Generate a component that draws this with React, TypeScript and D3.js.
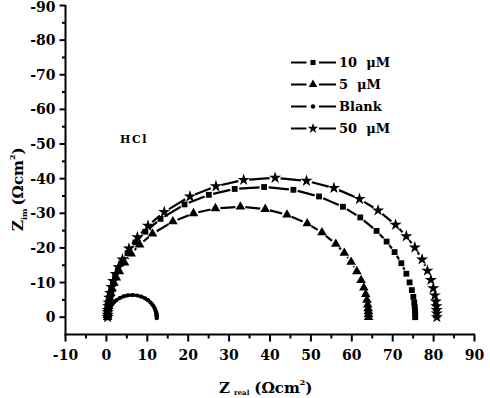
import React from "react";
import * as d3 from "d3";

type Pt = [number, number];

const seriesNames = ["10  μM", "5  μM", "Blank", "50  μM"];
const xTickValues = [-10, 0, 10, 20, 30, 40, 50, 60, 70, 80, 90];
const yTickValues = [-90, -80, -70, -60, -50, -40, -30, -20, -10, 0];
const annotationText = "HCl";

const uM10Data: Pt[] = [
  [0.3, 0], [0.31, -0.66], [0.32, -1.31], [0.35, -1.97], [0.42, -2.95], [0.51, -3.93],
  [0.67, -5.23], [0.87, -6.53], [1.19, -8.14], [1.58, -9.73], [2.14, -11.62], [2.8, -13.47],
  [3.69, -15.59], [5.18, -18.51], [7.1, -21.57], [9.52, -24.67], [13.23, -28.38], [19.1, -32.56],
  [25.04, -35.33], [31.37, -37.03], [38.56, -37.59], [45.72, -36.78], [51.99, -34.86], [57.83, -31.89],
  [62.07, -28.8], [66.06, -24.91], [68.51, -21.83], [70.46, -18.8], [72.11, -15.59], [73.34, -12.55],
  [74.13, -10.05], [74.68, -7.82], [75.04, -5.88], [75.26, -4.26], [75.38, -2.95], [75.45, -1.97],
  [75.49, -0.98], [75.5, 0],
];

const uM5Data: Pt[] = [
  [0.3, 0], [0.3, -0.56], [0.32, -1.11], [0.34, -1.67], [0.4, -2.5], [0.47, -3.33],
  [0.61, -4.44], [0.78, -5.54], [1.06, -6.9], [1.39, -8.26], [1.86, -9.86], [2.42, -11.43],
  [3.17, -13.23], [4.44, -15.71], [6.07, -18.3], [8.12, -20.93], [11.27, -24.08], [16.25, -27.63],
  [21.29, -29.98], [26.66, -31.42], [32.76, -31.9], [38.83, -31.2], [44.15, -29.58], [49.1, -27.05],
  [52.7, -24.44], [56.09, -21.14], [58.17, -18.52], [59.83, -15.95], [61.23, -13.23], [62.27, -10.65],
  [62.94, -8.52], [63.4, -6.63], [63.71, -4.99], [63.89, -3.61], [64.0, -2.5], [64.06, -1.67],
  [64.09, -0.84], [64.1, 0],
];

const blankData: Pt[] = [
  [0.3, 0], [0.3, -0.11], [0.3, -0.22], [0.31, -0.33], [0.32, -0.5], [0.33, -0.67],
  [0.36, -0.89], [0.39, -1.11], [0.44, -1.39], [0.5, -1.66], [0.59, -1.98], [0.7, -2.29],
  [0.84, -2.65], [1.08, -3.15], [1.39, -3.67], [1.77, -4.2], [2.36, -4.83], [3.3, -5.54],
  [4.25, -6.01], [5.26, -6.3], [6.4, -6.4], [7.55, -6.26], [8.55, -5.93], [9.48, -5.43],
  [10.16, -4.9], [10.79, -4.24], [11.18, -3.72], [11.5, -3.2], [11.76, -2.65], [11.96, -2.14],
  [12.08, -1.71], [12.17, -1.33], [12.23, -1.0], [12.26, -0.72], [12.28, -0.5], [12.29, -0.33],
  [12.3, -0.17], [12.3, 0.3],
];

const uM50Data: Pt[] = [
  [0.3, 0], [0.31, -0.7], [0.32, -1.4], [0.36, -2.11], [0.42, -3.16], [0.52, -4.21],
  [0.69, -5.6], [0.91, -6.99], [1.25, -8.71], [1.67, -10.42], [2.27, -12.44], [2.97, -14.42],
  [3.92, -16.69], [5.52, -19.82], [7.58, -23.09], [10.17, -26.41], [14.14, -30.38], [20.43, -34.86],
  [26.78, -37.82], [33.56, -39.64], [41.25, -40.24], [48.92, -39.37], [55.63, -37.32], [61.88, -34.13],
  [66.42, -30.83], [70.7, -26.67], [73.32, -23.37], [75.41, -20.13], [77.18, -16.69], [78.49, -13.44],
  [79.34, -10.76], [79.92, -8.37], [80.3, -6.3], [80.54, -4.56], [80.68, -3.16], [80.74, -2.11],
  [80.79, -1.05], [80.8, 0],
];

const FONT = "'DejaVu Serif', 'Liberation Serif', serif";

function trimmedSegments(pts: Pt[], gap: number): string {
  let d = "";
  for (let i = 1; i < pts.length; i++) {
    const [x0, y0] = pts[i - 1];
    const [x1, y1] = pts[i];
    const dx = x1 - x0, dy = y1 - y0;
    const L = Math.hypot(dx, dy);
    if (L <= 2 * gap + 0.5) continue;
    const ux = dx / L, uy = dy / L;
    d += `M${x0 + ux * gap},${y0 + uy * gap}L${x1 - ux * gap},${y1 - uy * gap}`;
  }
  return d;
}

export default function App() {
  const W = 490, H = 398;
  const x = d3.scaleLinear().domain([-10, 90]).range([65.5, 474.5]);
  const y = d3.scaleLinear().domain([-90, 5]).range([5.5, 334.5]);
  const xAxisY = y(5);
  const yAxisX = x(-10);

  const series = [
    { name: seriesNames[0], data: uM10Data, symbol: d3.symbolSquare, size: 34, gap: 4.5, continuous: false, legendSize: 26 },
    { name: seriesNames[1], data: uM5Data, symbol: d3.symbolTriangle, size: 40, gap: 5, continuous: false, legendSize: 32 },
    { name: seriesNames[2], data: blankData, symbol: d3.symbolCircle, size: 14, gap: 0, continuous: true, legendSize: 16 },
    { name: seriesNames[3], data: uM50Data, symbol: d3.symbolStar, size: 46, gap: 5.5, continuous: false, legendSize: 34 },
  ];

  const lineGen = d3.line<Pt>().x((d) => x(d[0])).y((d) => y(d[1]));

  const xMinor = d3.range(-5, 90, 10);
  const yMinor = d3.range(-85, 5, 10);

  return (
    <svg width={W} height={H} style={{ position: "absolute", left: 0, top: 0, background: "#fff" }}>
      <rect x={0} y={0} width={W} height={H} fill="#fff" />
      {/* series */}
      {series.map((s, si) => {
        const pix: Pt[] = s.data.map((d) => [x(d[0]), y(d[1])]);
        const sym = d3.symbol().type(s.symbol).size(s.size)();
        return (
          <g key={si}>
            {s.continuous ? (
              <path d={lineGen(s.data) || ""} fill="none" stroke="#000" strokeWidth={3.2} />
            ) : (
              <path d={trimmedSegments(pix, s.gap)} fill="none" stroke="#000" strokeWidth={2.2} />
            )}
            {pix.map((p, i) => (
              <path key={i} d={sym || ""} transform={`translate(${p[0]},${p[1]})`} fill="#000" />
            ))}
          </g>
        );
      })}
      {/* axes */}
      <line x1={yAxisX} x2={yAxisX} y1={y(-90) - 0.5} y2={xAxisY + 1} stroke="#000" strokeWidth={2} />
      <line x1={yAxisX - 1} x2={x(90) + 0.5} y1={xAxisY} y2={xAxisY} stroke="#000" strokeWidth={2} />
      {xTickValues.map((v) => (
        <g key={"xt" + v}>
          <line x1={x(v)} x2={x(v)} y1={xAxisY} y2={xAxisY + 7} stroke="#000" strokeWidth={2} />
          <text x={x(v)} y={xAxisY + 25} textAnchor="middle" fontFamily={FONT} fontWeight="bold" fontSize={14}>
            {String(v)}
          </text>
        </g>
      ))}
      {xMinor.map((v) => (
        <line key={"xm" + v} x1={x(v)} x2={x(v)} y1={xAxisY} y2={xAxisY + 4} stroke="#000" strokeWidth={2} />
      ))}
      {yTickValues.map((v) => (
        <g key={"yt" + v}>
          <line x1={yAxisX - 6} x2={yAxisX} y1={y(v)} y2={y(v)} stroke="#000" strokeWidth={2} />
          <text x={yAxisX - 10} y={Math.max(y(v), 7)} dy="0.36em" textAnchor="end" fontFamily={FONT} fontWeight="bold" fontSize={14}>
            {String(v)}
          </text>
        </g>
      ))}
      {yMinor.map((v) => (
        <line key={"ym" + v} x1={yAxisX - 3.5} x2={yAxisX} y1={y(v)} y2={y(v)} stroke="#000" strokeWidth={2} />
      ))}
      {/* x title */}
      <text x={219} y={393} fontFamily={FONT} fontWeight="bold" fontSize={15}>
        <tspan>Z</tspan>
        <tspan fontSize={7} dx={4} dy={2}>real</tspan>
        <tspan dx={5} dy={-2}>(Ωcm</tspan>
        <tspan fontSize={8} dy={-8}>2</tspan>
        <tspan dy={8}>)</tspan>
      </text>
      {/* y title */}
      <text transform="translate(23,231) rotate(-90)" fontFamily={FONT} fontWeight="bold" fontSize={15}>
        <tspan>Z</tspan>
        <tspan fontSize={8} dy={4} dx={0}>im</tspan>
        <tspan dx={3} dy={-4}>(Ωcm</tspan>
        <tspan fontSize={8} dy={-8}>2</tspan>
        <tspan dy={8}>)</tspan>
      </text>
      {/* annotation */}
      <text x={120} y={143} fontFamily={FONT} fontWeight="bold" fontSize={11} letterSpacing={1.5}>
        {annotationText}
      </text>
      {/* legend */}
      {series.map((s, i) => {
        const ly = 62.5 + i * 22;
        const sym = d3.symbol().type(s.symbol).size(s.legendSize)();
        return (
          <g key={"lg" + i}>
            <line x1={291} x2={306.5} y1={ly} y2={ly} stroke="#000" strokeWidth={2} />
            <line x1={319} x2={336} y1={ly} y2={ly} stroke="#000" strokeWidth={2} />
            <path d={sym || ""} transform={`translate(313,${ly})`} fill="#000" />
            <text x={339} y={ly} dy="0.36em" fontFamily={FONT} fontWeight="bold" fontSize={13} style={{ whiteSpace: "pre" }}>
              {s.name}
            </text>
          </g>
        );
      })}
    </svg>
  );
}
